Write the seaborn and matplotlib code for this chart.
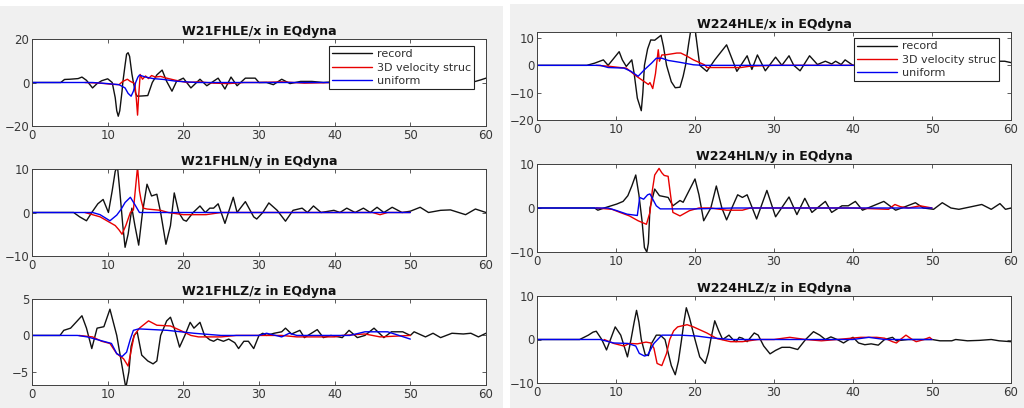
import numpy as np
import matplotlib
matplotlib.use("Agg")
import matplotlib.pyplot as plt
from matplotlib.patches import Rectangle
import seaborn as sns

# ---------------- data (time in s) ----------------
# W21FHLE/x
rec1_t = [0, 3.8, 4.3, 5.0, 6.1, 6.6, 7.2, 8.0, 8.6, 9.2, 10.0, 10.6, 11.0, 11.2, 11.4, 11.6, 11.9, 12.0,
          12.3, 12.5, 12.7, 12.9, 13.2, 13.4, 13.7, 13.9, 14.5, 15.3, 15.9, 16.5, 17.2, 17.8, 18.5, 19.1,
          20.0, 21.0, 22.2, 23.1, 24.6, 25.5, 26.3, 27.1, 28.2, 29.5, 30.0, 31.0, 31.9, 33.0, 34.1, 35.5,
          37.0, 38.5, 40.0, 44, 48, 52, 56, 58.6, 59.3, 60]
rec1_v = [0, 0, 1.4, 1.5, 1.8, 2.5, 1.0, -2.5, -0.5, 0.8, 1.7, 0, -7, -13, -15.5, -13, -4, 0,
          8, 13, 13.7, 12, 4, 0, -5, -6.3, -6.2, -6.0, 0, 3.5, 5.7, 0.5, -4.0, 0.5,
          2.0, -2.5, 1.5, -1.5, 2.0, -3.0, 2.5, -1.5, 2.0, 2.0, 0, 0, -1.0, 1.5, -0.5, 0.5,
          0.5, 0, 0.3, 0.5, -0.3, 0.3, 0, 0.5, 1.2, 2.0]
red1_t = [7.0, 9.0, 10.5, 11.5, 12.0, 12.6, 13.0, 13.6, 13.8, 13.95, 14.1, 14.3, 14.6, 15.0, 15.4, 15.8,
          16.3, 17.0, 17.8, 19.0, 20.5, 22, 24, 26, 28, 30, 33, 36, 40, 45, 50]
red1_v = [0, -0.3, -0.8, -1.0, 0.5, 1.5, 0.5, -0.5, -8, -15, -6, 3.7, 1.5, 3.0, 1.8, 3.2,
          2.5, 2.8, 2.0, 1.0, 0, 0.3, -0.3, -0.5, 0, 0, 0.3, -0.3, 0, 0, 0]
blu1_t = [0, 8, 10, 11.5, 12.3, 12.7, 13.1, 13.4, 13.7, 14.0, 14.2, 15.0, 16.0, 17.4, 19.0, 21.8, 25, 30, 35, 40, 45, 50]
blu1_v = [0, 0, -0.5, -1.0, -2.5, -5.0, -6.3, -4.0, 0, 2.5, 3.4, 2.5, 1.8, 1.4, 0.6, 0, 0, 0, 0, 0, 0, 0]

# W224HLE/x
rec2_t = [0, 6.3, 7.3, 8.4, 9.0, 9.7, 10.4, 10.8, 11.3, 12.0, 12.3, 12.7, 13.2, 13.4, 13.6, 14.0, 14.4,
          14.9, 15.7, 16.0, 16.4, 17.0, 17.5, 18.1, 18.5, 18.8, 19.2, 19.5, 20.0, 20.6, 21.5, 22.5, 24.0,
          25.3, 26.6, 27.2, 27.9, 28.9, 30.2, 31.0, 31.9, 32.5, 33.3, 34.5, 35.5, 36.5, 37.3, 37.8, 38.5,
          39.0, 40, 45, 50, 55, 58.5, 59.2, 60]
rec2_v = [0, 0, 0.8, 2.0, 0, 2.5, 5.0, 2.0, -0.4, 2.0, -3, -12, -16.6, -10, 0, 6, 9.3,
          9.2, 11, 7, 0, -6, -8.2, -8.0, -4, 0, 8, 13.5, 13.5, 0, -2.2, 2.0, 7.5,
          -2.2, 3.5, -1.5, 3.8, -2.0, 3.0, 0, 3.5, 0, -2.0, 3.5, 0.3, 1.5, 0.5, 1.5, 0.3,
          2.0, 0, 0, 0, 0, 1.5, 1.5, 1.0]
red2_t = [7.5, 9.0, 10.5, 11.3, 12.6, 13.5, 14.1, 14.3, 14.65, 15.0, 15.35, 15.5, 15.8, 16.4, 17.7, 18.2,
          18.9, 19.8, 21.2, 21.5, 25.8, 27.0, 30, 35, 40, 45, 50]
red2_v = [0, -0.3, -0.8, -1.0, -4.0, -5.8, -7.0, -6.3, -8.5, -3, 5.7, 1.5, 3.8, 3.9, 4.5, 4.5,
          3.5, 2.0, 0.2, -0.8, -0.8, -0.3, 0, 0, 0, 0, 0]
blu2_t = [0, 8.0, 9.0, 11.0, 11.9, 12.8, 13.6, 14.5, 15.1, 15.8, 16.6, 18.1, 19.8, 21.0, 25, 30, 35, 40, 45, 50]
blu2_v = [0, 0, -0.8, -1.0, -2.2, -4.0, -1.6, 0.8, 2.6, 2.6, 1.8, 1.1, 0.2, 0, 0, 0, 0, 0, 0, 0]

# W21FHLN/y
rec3_t = [0, 5.5, 6.3, 7.2, 7.9, 8.7, 9.4, 10.1, 10.6, 11.0, 11.3, 11.6, 12.0, 12.3, 12.7, 13.2, 13.6,
          14.1, 14.6, 15.2, 15.8, 16.5, 17.0, 17.7, 18.3, 18.8, 19.4, 20.0, 20.4, 21.3, 22.2, 22.9,
          23.5, 24.0, 24.6, 25.5, 26.6, 27.1, 28.2, 29.3, 29.7, 30.5, 31.3, 32.4, 33.5, 34.5, 35.7,
          36.4, 37.2, 38.2, 39.9, 40.7, 41.6, 42.7, 43.8, 44.7, 45.6, 46.5, 47.6, 48.9, 50.0, 51.3,
          52.4, 54.0, 55.3, 57.3, 58.6, 60.0]
rec3_v = [0, 0, -1.0, -1.9, 0, 2.0, 3.0, 0, 5, 9.5, 10.5, 5, -3, -8, -5, 1.0, -3,
          -7.5, 0, 6.5, 3.8, 4.2, 0, -7.3, -3, 4.5, 0, -1.7, -2.0, 0, 1.5, 0,
          1.0, 1.0, 2.0, -2.5, 3.5, 0, 2.5, -1.0, -1.5, 0, 2.2, 0.5, -2.0, 0.5, 1.0,
          0, 1.5, 0, 0.5, 0, 1.0, 0, 1.0, 0, 1.2, 0, 1.2, 0, 0.3, 1.2,
          0, 0.5, 0.6, -0.5, 0.8, 0]
red3_t = [7.0, 8.0, 9.0, 10.0, 11.0, 11.5, 11.9, 12.4, 13.0, 13.4, 13.7, 13.95, 14.2, 14.4, 14.7, 15.2,
          17.0, 18.0, 20.0, 23.0, 25, 30, 35, 40, 45, 46, 47, 50]
red3_v = [0, -0.5, -1.0, -2.0, -3.0, -4.0, -5.0, -3.0, 0, 0.6, 6, 10.5, 5, 3.0, 1.0, 0.8,
          0.5, 0, -0.5, -0.5, 0, 0, 0, 0, 0, -0.5, 0, 0]
blu3_t = [0, 8.0, 9.0, 10.3, 11.2, 11.8, 12.3, 13.0, 13.6, 14.2, 15, 20, 25, 30, 35, 40, 45, 50]
blu3_v = [0, 0, -0.5, -1.9, -0.6, 0.8, 2.3, 3.5, 1.8, 0, 0, 0, 0, 0, 0, 0, 0, 0]

# W224HLN/y
rec4_t = [0, 7.3, 7.7, 8.5, 10.1, 10.9, 11.5, 12.0, 12.5, 12.9, 13.3, 13.6, 13.9, 14.1, 14.3, 14.9,
          15.5, 16.6, 17.2, 18.1, 18.5, 20.0, 20.5, 21.1, 22.0, 22.7, 23.4, 24.0, 25.4, 26.0, 26.6,
          27.8, 29.1, 30.2, 31.9, 32.9, 33.9, 34.8, 36.5, 37.3, 38.6, 39.4, 40.3, 41.2, 43.9, 45.4,
          46.6, 47.9, 48.9, 50.2, 51.3, 52.4, 53.4, 55.0, 56.3, 57.5, 58.6, 59.3, 60.0]
rec4_v = [0, 0, -0.5, 0, 0.9, 1.5, 2.8, 5.0, 7.5, 3, -3, -9, -10, -8, 0, 4.3,
          2.8, 2.4, 0.5, 1.7, 1.3, 6.6, 3, -2.9, 0, 5.0, 0, -2.7, 3.0, 2.4, 3.0,
          -2.5, 4.0, -2.0, 2.5, -1.5, 2.2, -1.0, 1.5, -1.0, 0.5, 0.5, 1.5, -0.5, 1.5, -0.5,
          0.3, 1.2, 0, -0.3, 1.2, 0, -0.3, 0.3, 0.8, -0.3, 1.0, -0.3, 0]
red4_t = [7.5, 9.5, 10.5, 11.7, 12.8, 13.85, 14.3, 14.6, 14.9, 15.45, 15.8, 16.1, 16.6, 16.9, 17.2, 18.1,
          19.3, 20.5, 22.0, 24.0, 26.0, 27.0, 30, 35, 40, 44.5, 45.3, 46.0, 47.0, 48.5, 50.0]
red4_v = [0, -0.3, -1.0, -1.8, -2.9, -3.7, -1, 4, 7.5, 9.0, 8.0, 7.4, 7.2, 3, -1.0, -1.8,
          -0.6, 0, 0, -0.5, -0.5, 0, 0, 0, 0, -0.3, 0.8, 0.3, 0, 0.5, 0]
blu4_t = [0, 9.0, 10.1, 11.4, 12.7, 13.0, 13.5, 14.0, 14.3, 15.1, 15.6, 20.0, 25, 30, 35, 40, 45, 50]
blu4_v = [0, 0, -0.6, -1.4, -1.7, 2.4, 2.0, 3.0, 3.2, 0.5, -0.2, -0.2, 0, 0, 0, 0, 0, 0]

# W21FHLZ/z
rec5_t = [0, 3.7, 4.2, 5.1, 5.9, 6.6, 7.2, 7.9, 8.6, 9.5, 10.3, 10.7, 11.2, 11.7, 12.4, 12.8, 13.1,
          13.5, 13.9, 14.5, 15.3, 16.0, 16.5, 17.0, 17.8, 18.3, 18.8, 19.5, 20.2, 20.9, 21.4, 22.2,
          22.8, 23.5, 24.0, 24.5, 25.3, 26.0, 26.8, 27.3, 28.0, 28.6, 29.3, 30.0, 30.5, 31.0, 32.0,
          33.0, 33.5, 34.3, 35.4, 36.0, 37.7, 38.5, 39.5, 41.0, 41.9, 43.0, 44.0, 45.2, 46.5, 47.5,
          49.0, 50.0, 50.5, 52.0, 53.0, 54.0, 55.5, 57.0, 58.0, 59.0, 60.0]
rec5_v = [0, 0, 0.7, 1.0, 1.9, 2.7, 1.0, -1.8, 1.0, 1.2, 3.6, 2.0, 0, -3.0, -7.2, -5.0, -1.5,
          0, 0.5, -2.7, -3.5, -3.9, -3.5, 0, 2.0, 2.5, 1.0, -1.6, 0, 1.8, 1.0, 1.8,
          0, -0.6, -0.8, -0.5, -0.8, -0.5, -1.0, -1.8, -0.8, -0.8, -1.8, 0, 0.3, 0, 0.3,
          0.5, 1.0, 0.2, 0.7, -0.3, 0.8, -0.3, 0, -0.3, 0.7, -0.3, 0, 1.0, -0.3, 0.5,
          0.5, 0, 0.5, -0.2, 0.3, -0.3, 0.3, 0.2, 0.3, -0.2, 0.3]
red5_t = [6.2, 8.0, 9.2, 10.3, 11.2, 12.1, 12.7, 13.5, 14.2, 15.4, 16.5, 18.3, 19.6, 21.0, 22.0, 25.0,
          27.0, 30.0, 33.0, 35.0, 40.0, 41.0, 44.0, 46.0, 50.0]
red5_v = [0, -0.2, -0.8, -1.1, -2.5, -3.2, -4.2, 0, 1.0, 2.0, 1.4, 1.3, 0.7, 0, -0.2, -0.2,
          0, 0, 0, -0.2, -0.2, 0, 0.2, -0.2, 0]
blu5_t = [0, 6.0, 7.3, 10.5, 11.2, 11.9, 12.5, 13.0, 13.4, 14.1, 17.9, 21.4, 25.0, 30.0, 31.0, 33.0,
          34.0, 35.0, 40.0, 42.0, 44.0, 47.0, 50.0]
blu5_v = [0, 0, -0.2, -1.1, -2.5, -2.9, -2.3, -0.5, 0.7, 0.9, 0.7, 0.3, 0, 0, 0.3, -0.2,
          0.3, 0, 0, 0, 0.5, 0.5, -0.5]

# W224HLZ/z
rec6_t = [0, 5.4, 6.5, 7.1, 7.5, 8.2, 8.8, 9.3, 9.9, 10.6, 11.45, 11.9, 12.3, 12.6, 12.9, 13.2, 13.7,
          14.1, 14.5, 15.1, 15.6, 16.2, 16.6, 17.0, 17.5, 17.9, 18.3, 18.6, 18.9, 19.3, 20.0, 20.6,
          21.3, 21.7, 22.0, 22.5, 23.0, 23.5, 24.3, 24.8, 25.2, 25.6, 26.0, 26.6, 27.5, 28.0, 28.7,
          29.5, 30.2, 31.0, 32.0, 33.0, 34.0, 35.0, 35.8, 36.5, 37.2, 38.0, 38.8, 39.5, 40.0, 40.7,
          41.5, 42.3, 43.2, 44.0, 45.0, 45.5, 47.0, 48.0, 50.0, 51.0, 52.5, 53.0, 54.5, 56.0, 57.5,
          58.5, 60.0]
rec6_v = [0, 0, 1.0, 1.7, 1.9, 0, -2.4, 0, 2.9, 1.0, -4.0, 0, 4.0, 6.7, 4.0, 0, -3.5,
          -3.7, -0.9, 1.0, 1.0, 0, -3.0, -6.0, -8.1, -5.0, 0, 4.0, 7.3, 5.0, 0, -4.0,
          -5.5, -3.0, 0, 4.3, 2.0, 0, 1.0, 0, -0.5, 0.5, 0.3, -0.5, 1.5, 1.0, -1.5,
          -3.3, -2.5, -1.8, -1.8, -2.3, 0, 1.8, 1.0, 0, 0.6, 0, -0.8, 0, 0.5, -0.8,
          -1.2, -1.0, -1.3, 0, 0.5, -0.3, 0, 0, 0, -0.3, -0.3, 0, -0.3, -0.2, 0,
          -0.3, -0.5]
red6_t = [8.5, 9.7, 11.0, 11.7, 12.7, 13.8, 14.4, 14.8, 15.2, 15.8, 16.4, 16.8, 17.3, 17.8, 19.0, 19.8,
          21.5, 22.8, 24.5, 26.0, 28.0, 30.0, 32.0, 34.0, 36.0, 38.0, 41.0, 43.0, 44.0, 45.0, 45.5,
          46.0, 46.7, 47.5, 48.0, 49.0, 49.7, 50.0]
red6_v = [0, -0.9, -1.5, -0.9, -1.0, -0.6, -0.8, -2.0, -5.5, -6.0, -3.2, 0, 2.0, 2.9, 3.4, 2.9,
          1.5, 0.2, -0.5, -0.5, 0, 0, 0.5, 0, -0.3, 0, 0.5, 0.5, 0.3, -0.5, -0.8,
          0, 1.0, 0, -0.5, 0, 0.5, 0]
blu6_t = [0, 8.0, 9.7, 11.5, 12.5, 12.95, 13.6, 14.0, 14.8, 15.8, 18.1, 20.2, 21.9, 24.5, 30, 35, 40,
          42.0, 44.0, 47, 50.0]
blu6_v = [0, 0, -0.8, -0.9, -1.5, -3.2, -3.8, -3.6, -0.9, 1.0, 1.0, 0.8, 0.4, 0, 0, 0, 0,
          0.5, 0, 0, 0]

titulos = ["W21FHLE/x in EQdyna", "W224HLE/x in EQdyna",
           "W21FHLN/y in EQdyna", "W224HLN/y in EQdyna",
           "W21FHLZ/z in EQdyna", "W224HLZ/z in EQdyna"]
nomes = ["record", "3D velocity struc", "uniform"]
x_ticks = [0, 10, 20, 30, 40, 50, 60]

# ---------------- style ----------------
sns.set_theme(style="ticks")
plt.rcParams["font.family"] = ["DejaVu Sans"]
cor_eixo = "#404040"
cor_texto = "#383838"

fig = plt.figure(figsize=(10.24, 4.08), dpi=100)
fig.patch.set_facecolor("white")
# two grey "screenshot" backgrounds
fig.patches.append(Rectangle((0, 0), 503 / 1024, 402 / 408, transform=fig.transFigure,
                             facecolor="#f0f0f0", edgecolor="none", zorder=-10))
fig.patches.append(Rectangle((510 / 1024, 0), 514 / 1024, 404 / 408, transform=fig.transFigure,
                             facecolor="#f0f0f0", edgecolor="none", zorder=-10))

# axes boxes in pixels (left, top, right, bottom)
caixas = [(32, 39, 486, 126), (537, 32, 1011, 120),
          (32, 169, 486, 256), (537, 164, 1011, 252),
          (32, 299, 486, 385), (537, 296, 1011, 383)]

paineis = [
    (rec1_t, rec1_v, red1_t, red1_v, blu1_t, blu1_v, (-20, 20), [-20, 0, 20]),
    (rec2_t, rec2_v, red2_t, red2_v, blu2_t, blu2_v, (-20, 12.2), [-20, -10, 0, 10]),
    (rec3_t, rec3_v, red3_t, red3_v, blu3_t, blu3_v, (-10, 10), [-10, 0, 10]),
    (rec4_t, rec4_v, red4_t, red4_v, blu4_t, blu4_v, (-10, 10), [-10, 0, 10]),
    (rec5_t, rec5_v, red5_t, red5_v, blu5_t, blu5_v, (-6.8, 5), [-5, 0, 5]),
    (rec6_t, rec6_v, red6_t, red6_v, blu6_t, blu6_v, (-10, 10), [-10, 0, 10]),
]
pos_legenda = {0: (0.974, 0.92), 1: (0.975, 0.93)}

for i, (caixa, painel) in enumerate(zip(caixas, paineis)):
    l, t, r, b = caixa
    ax = fig.add_axes([l / 1024, 1 - b / 408, (r - l) / 1024, (b - t) / 408])
    ax.set_facecolor("white")
    rt, rv, vt, vv, ut, uv, ylim, yticks = painel
    com_leg = i in pos_legenda
    for (xs, ys, cor, nome) in [(rt, rv, "#111111", nomes[0]),
                                (vt, vv, "#e80000", nomes[1]),
                                (ut, uv, "#0000f0", nomes[2])]:
        kw = {"label": nome} if com_leg else {}
        sns.lineplot(x=xs, y=ys, ax=ax, color=cor, linewidth=1.0, estimator=None,
                     sort=False, legend=False, **kw)
    ax.set_xlim(0, 60)
    ax.set_ylim(*ylim)
    ax.set_xticks(x_ticks)
    ax.set_yticks(yticks)
    ax.set_xlabel("")
    ax.set_ylabel("")
    ax.tick_params(direction="in", length=3, width=0.6, top=True, right=True,
                   labelsize=8.5, colors=cor_eixo, labelcolor=cor_texto, pad=2)
    for sp in ax.spines.values():
        sp.set_color(cor_eixo)
        sp.set_linewidth(0.7)
    ax.set_title(titulos[i], fontsize=9, fontweight="bold", color="#111111", pad=3)
    if com_leg:
        leg = ax.legend(loc="upper right", bbox_to_anchor=pos_legenda[i], borderaxespad=0,
                        fontsize=8, handlelength=3.6, handletextpad=0.4, labelspacing=0.3,
                        borderpad=0.3, fancybox=False, framealpha=1, edgecolor="#222222")
        leg.get_frame().set_linewidth(0.8)
        for txt in leg.get_texts():
            txt.set_color("#303030")
    elif ax.get_legend() is not None:
        ax.get_legend().remove()

fig.savefig("out.png", dpi=100, facecolor=fig.get_facecolor())
